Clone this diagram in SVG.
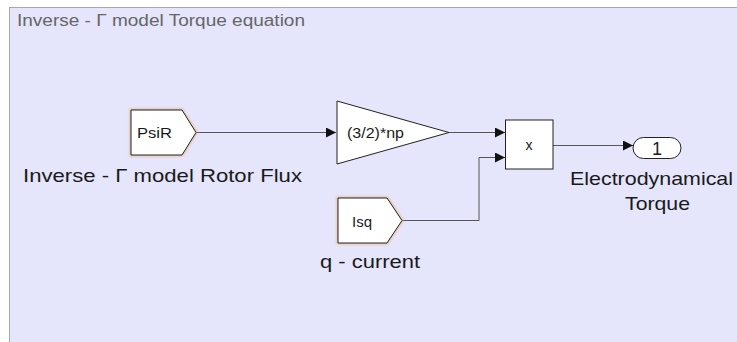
<svg xmlns="http://www.w3.org/2000/svg" width="737" height="342" viewBox="0 0 737 342">
<defs>
<style>
.t{font-family:"Liberation Sans",Arial,sans-serif;fill:#1a1a1a}
.blk{fill:#fff;stroke:#222;stroke-width:1}
.glow{fill:none;stroke:#e9b27a;stroke-width:3;opacity:0.7}
.ln{fill:none;stroke:#555;stroke-width:1}
</style>
<marker id="ah" markerWidth="10" markerHeight="10" refX="10" refY="5" orient="auto" markerUnits="userSpaceOnUse">
<path d="M0,0 L10,5 L0,10 Z" fill="#111"/>
</marker>
<filter id="blur" x="-20%" y="-20%" width="140%" height="140%"><feGaussianBlur stdDeviation="1"/></filter>
</defs>
<rect x="0" y="0" width="737" height="342" fill="#fff"/>
<rect id="area" x="9.5" y="7.5" width="740" height="345" fill="#e5e5fb" stroke="#a8a8a8" stroke-width="1"/>
<text class="t" x="17" y="26" font-size="16" fill="#666" style="fill:#666" textLength="288" lengthAdjust="spacingAndGlyphs">Inverse - Γ model Torque equation</text>

<g id="connectors">
<path class="ln" d="M196,132.5 H336" marker-end="url(#ah)"/>
<path class="ln" d="M449,132.5 H505" marker-end="url(#ah)"/>
<path class="ln" d="M402,220.5 H479 V157.5 H505" marker-end="url(#ah)"/>
<path class="ln" d="M553,145.5 H633" marker-end="url(#ah)"/>
</g>

<g id="psir">
<path class="glow" filter="url(#blur)" d="M131,110 H182 L196,132.5 L182,155 H131 Z"/>
<path class="blk" d="M131,110 H182 L196,132.5 L182,155 H131 Z"/>
<text class="t" x="137" y="137.5" font-size="14" textLength="35" lengthAdjust="spacingAndGlyphs">PsiR</text>
<text class="t" x="23" y="181.5" font-size="19" textLength="279" lengthAdjust="spacingAndGlyphs">Inverse - Γ model Rotor Flux</text>
</g>

<g id="isq">
<path class="glow" filter="url(#blur)" d="M338,198 H387 L402,220.5 L387,243 H338 Z"/>
<path class="blk" d="M338,198 H387 L402,220.5 L387,243 H338 Z"/>
<text class="t" x="352" y="226.5" font-size="14" textLength="20" lengthAdjust="spacingAndGlyphs">Isq</text>
<text class="t" x="320" y="268" font-size="19" textLength="100" lengthAdjust="spacingAndGlyphs">q - current</text>
</g>

<g id="gain">
<path class="blk" d="M337,101 L449,132.5 L337,164 Z"/>
<text class="t" x="347" y="138" font-size="14" textLength="57" lengthAdjust="spacingAndGlyphs">(3/2)*np</text>
</g>

<g id="product">
<rect class="blk" x="505.5" y="120" width="47.5" height="49"/>
<text class="t" x="529" y="150" font-size="14" text-anchor="middle">x</text>
</g>

<g id="out1">
<rect class="blk" x="633" y="137.5" width="48" height="21" rx="10.5" ry="10.5"/>
<text class="t" x="657" y="155" font-size="18" text-anchor="middle">1</text>
<text class="t" x="570" y="185" font-size="19" textLength="163" lengthAdjust="spacingAndGlyphs">Electrodynamical</text>
<text class="t" x="625" y="210" font-size="19" textLength="65" lengthAdjust="spacingAndGlyphs">Torque</text>
</g>
</svg>
